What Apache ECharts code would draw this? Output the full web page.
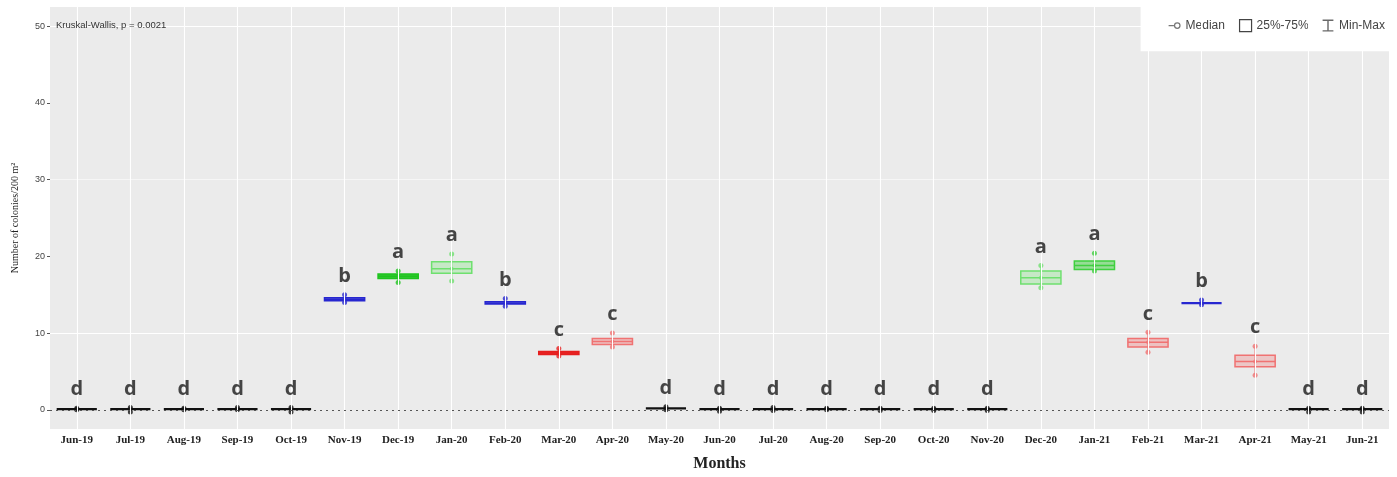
<!DOCTYPE html>
<html>
<head>
<meta charset="utf-8">
<script src="https://cdn.jsdelivr.net/npm/echarts@6/dist/echarts.min.js"></script>
<style>html,body{margin:0;padding:0;background:#fff;}#c{width:1397px;height:477px;}</style>
</head>
<body>
<div id="c"></div>
<script>
const months = ['Jun-19','Jul-19','Aug-19','Sep-19','Oct-19','Nov-19','Dec-19','Jan-20','Feb-20','Mar-20','Apr-20','May-20','Jun-20','Jul-20','Aug-20','Sep-20','Oct-20','Nov-20','Dec-20','Jan-21','Feb-21','Mar-21','Apr-21','May-21','Jun-21'];
const mins    = [0,-0.3,0,0,-0.3, 14.0,16.6,16.8,13.5,7.0,8.2, 0,-0.2,-0.1,0,-0.1,-0.1,-0.1, 15.9,18.1,7.5,13.7,4.5, -0.3,-0.3];
const q1s     = [0,0,0,0,0,       14.2,17.1,17.8,13.8,7.2,8.5, 0,0,0,0,0,0,0,      16.4,18.3,8.2,13.8,5.6, 0,0];
const medians = [0.1,0.1,0.1,0.1,0.1, 14.4,17.4,18.4,13.9,7.4,8.9, 0.2,0.1,0.1,0.1,0.1,0.1,0.1, 17.2,18.8,8.8,13.9,6.3, 0.1,0.1];
const q3s     = [0.1,0.1,0.1,0.1,0.1, 14.6,17.7,19.3,14.1,7.6,9.3, 0.1,0.1,0.1,0.1,0.1,0.1,0.1, 18.1,19.4,9.3,14.0,7.1, 0.1,0.1];
const maxs    = [0.2,0.3,0.2,0.3,0.3, 15.0,18.1,20.3,14.5,8.0,10.0, 0.4,0.2,0.3,0.2,0.2,0.2,0.2, 18.8,20.4,10.1,14.3,8.3, 0.2,0.2];
const groups  = ['d','d','d','d','d','b','a','a','b','c','c','d','d','d','d','d','d','d','a','a','c','b','c','d','d'];
const yTicks  = [0,10,20,30,40,50];

// styles (not data)
const boxColors = ['#111','#111','#111','#111','#111','#2727d0','#1ec41e','#6fe06f','#2727d0','#e61e1e','#f07272',
  '#111','#111','#111','#111','#111','#111','#111','#6fe06f','#3fd03f','#f07272','#2727d0','#f07272','#111','#111'];
const fillAlpha = [1,1,1,1,1, 0.6,0.9,0.3,0.6,0.9,0.35, 1,1,1,1,1,1,1, 0.3,0.5,0.35,0.6,0.3, 1,1];

function hexA(h,a){const n=parseInt(h.slice(1),16);return `rgba(${n>>16},${(n>>8)&255},${n&255},${a})`;}

const boxData = months.map((m,i)=>[i,mins[i],q1s[i],medians[i],q3s[i],maxs[i]]);
const extremes = [];
months.forEach((m,i)=>{
  extremes.push({value:[i,mins[i]],itemStyle:{color:boxColors[i]}});
  extremes.push({value:[i,maxs[i]],itemStyle:{color:boxColors[i]}});
});
const medData = months.map((m,i)=>({value:[i,medians[i]],itemStyle:{color:boxColors[i]}}));
const letterData = months.map((m,i)=>[i,maxs[i]]);

function renderBox(params, api){
  const i = params.dataIndex;
  const idx = api.value(0);
  const pMin = api.coord([idx, api.value(1)]);
  const pQ1 = api.coord([idx, api.value(2)]);
  const pMed = api.coord([idx, api.value(3)]);
  const pQ3 = api.coord([idx, api.value(4)]);
  const pMax = api.coord([idx, api.value(5)]);
  const bw = api.size([1,0])[0]*0.75;
  const x = pMed[0];
  const c = boxColors[i];
  const top = Math.min(pQ1[1],pQ3[1]), h = Math.abs(pQ1[1]-pQ3[1]);
  const kids = [{type:'line',shape:{x1:x,y1:pMin[1],x2:x,y2:pMax[1]},style:{stroke:c,lineWidth:1.2}}];
  if (h < 2) {
    kids.push({type:'line',shape:{x1:x-bw/2,y1:pMed[1],x2:x+bw/2,y2:pMed[1]},style:{stroke:c,lineWidth:2.2}});
  } else {
    kids.push({type:'rect',shape:{x:x-bw/2,y:top,width:bw,height:h},style:{fill:hexA(c,fillAlpha[i]),stroke:c,lineWidth:1.5}});
    kids.push({type:'line',shape:{x1:x-bw/2,y1:pMed[1],x2:x+bw/2,y2:pMed[1]},style:{stroke:c,lineWidth:1.5}});
  }
  return {type:'group',children:kids};
}

const chart = echarts.init(document.getElementById('c'));
chart.setOption({
  animation:false,
  backgroundColor:'#fff',
  title:{text:'Kruskal-Wallis, p = 0.0021',left:51,top:15,textStyle:{fontFamily:'Liberation Sans',fontSize:9.5,fontWeight:'normal',color:'#333'}},
  legend:{
    right:0,top:0,backgroundColor:'#fff',padding:[19,12,19,28],itemGap:14,itemWidth:12,itemHeight:12,
    textStyle:{fontFamily:'Liberation Sans',fontSize:12,color:'#444'},
    data:[
      {name:'Median',icon:'path://M0,4.4h5.6v1.2h-5.6z M9,1.5a3.5,3.5 0 1,0 0.01,0z M9,2.8a2.2,2.2 0 1,1 -0.01,0z',itemStyle:{color:'#555',borderWidth:0}},
      {name:'25%-75%',icon:'rect',itemStyle:{color:'#fff',borderColor:'#444',borderWidth:1.2}},
      {name:'Min-Max',icon:'path://M0,0h9v1.2h-3.9v7.6h3.9v1.2h-9v-1.2h3.9v-7.6h-3.9z',itemStyle:{color:'#444',borderWidth:0}}
    ]
  },
  grid:{left:50,right:8,top:7,bottom:45,show:true,backgroundColor:'#ebebeb',borderWidth:0},
  xAxis:{
    type:'category',data:months,boundaryGap:true,
    axisLine:{show:false},
    axisTick:{show:true,alignWithLabel:true,length:3,lineStyle:{color:'#555'}},
    axisLabel:{fontFamily:'Liberation Serif',fontWeight:'bold',fontSize:11,color:'#222',margin:6,interval:0},
    splitLine:{show:false},
    name:'Months',nameLocation:'middle',nameGap:27,
    nameTextStyle:{fontFamily:'Liberation Serif',fontWeight:'bold',fontSize:16,color:'#222'}
  },
  yAxis:{
    type:'value',min:-2.5,max:52.5,interval:2.5,
    axisLine:{show:false},
    axisTick:{show:true,length:3,lineStyle:{color:'#555'},customValues:yTicks},
    axisLabel:{fontFamily:'Liberation Sans',fontSize:9,color:'#444',margin:5,customValues:yTicks},
    splitLine:{show:true,lineStyle:{color:['#ebebeb','#ffffff','#ebebeb','#f6f6f6'],width:1.1}},
    name:'Number of colonies/200 m²',nameLocation:'middle',nameGap:30,
    nameTextStyle:{fontFamily:'Liberation Serif',fontSize:10,color:'#222'}
  },
  series:[
    {
      name:'grid-lines',type:'line',data:[],z:1,silent:true,
      markLine:{silent:true,symbol:'none',label:{show:false},animation:false,
        data:[
          ...months.map(m=>({xAxis:m,lineStyle:{color:'#fff',width:1.1,type:'solid'}})),
          {yAxis:0,lineStyle:{color:'#555',width:1.2,type:[2,4]}}
        ]}
    },
    {
      name:'25%-75%',type:'custom',data:boxData,renderItem:renderBox,z:3,
      encode:{x:0,y:[1,2,3,4,5]},itemStyle:{color:'#fff',borderColor:'#444'}
    },
    {
      name:'Min-Max',type:'scatter',data:extremes,symbol:'circle',symbolSize:5,z:4
    },
    {
      name:'Median',type:'scatter',data:medData,symbol:'circle',symbolSize:4,z:4
    },
    {
      name:'letters',type:'scatter',data:letterData,symbolSize:1,itemStyle:{color:'rgba(0,0,0,0)'},z:5,
      label:{show:true,position:'top',distance:8,formatter:p=>groups[p.dataIndex],
        fontFamily:'Open Sans',fontWeight:'bold',fontSize:20,color:'#1a1a1a'}
    }
  ]
});
</script>
</body>
</html>
